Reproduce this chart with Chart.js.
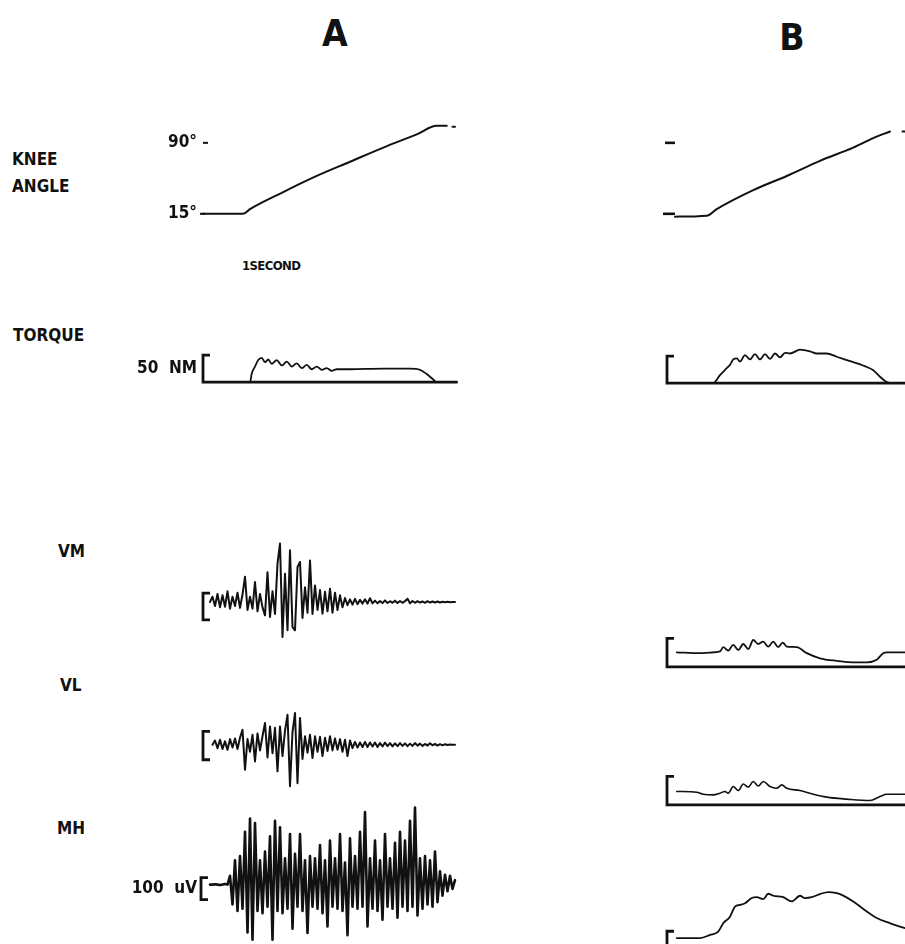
<!DOCTYPE html>
<html>
<head>
<meta charset="utf-8">
<title>Knee angle, torque and EMG</title>
<script src="https://cdn.jsdelivr.net/npm/chart.js@4.4.0/dist/chart.umd.min.js"></script>
<style>
  html, body { margin: 0; padding: 0; background: #fff; overflow: hidden; width: 905px; height: 944px; }
  body { position: relative; font-family: 'DejaVu Sans Condensed', 'DejaVu Sans', sans-serif; font-weight: bold; color: #111; }
  .lbl { position: absolute; font-size: 17px; line-height: 17px; white-space: nowrap; }
  .ttl { position: absolute; font-size: 37px; line-height: 37px; width: 40px; text-align: center; }
  .small { position: absolute; font-size: 13px; line-height: 13px; letter-spacing: -0.6px; white-space: nowrap; }
  canvas { position: absolute; }
</style>
</head>
<body>
<div class="ttl" style="left:315px;top:15px">A</div>
<div class="ttl" style="left:772px;top:19px">B</div>

<div class="lbl" style="left:12px;top:151px">KNEE</div>
<div class="lbl" style="left:12px;top:178px">ANGLE</div>
<div class="small" style="left:242px;top:259px">1SECOND</div>
<div class="lbl" style="left:13px;top:327px">TORQUE</div>
<div class="lbl" style="left:58px;top:543px">VM</div>
<div class="lbl" style="left:60px;top:677px">VL</div>
<div class="lbl" style="left:57px;top:820px">MH</div>

<canvas id="kneeA"></canvas>
<canvas id="kneeB"></canvas>
<canvas id="torqueA"></canvas>
<canvas id="torqueB"></canvas>
<canvas id="vmA"></canvas>
<canvas id="vlA"></canvas>
<canvas id="mhA"></canvas>
<canvas id="vmB"></canvas>
<canvas id="vlB"></canvas>
<canvas id="mhB"></canvas>

<script>
// ---- data (time in seconds from start of record) ----

// knee angle, degrees
const kneeTicks = [15, 90];
const kneeTimeA = [0.12, 1.72, 2.0, 3.33, 4.67, 6.0, 7.33, 8.67, 9.47, 9.87, 10.05, 10.1, 10.2];
const kneeAngleA = [15, 15, 20, 38, 55, 70, 85, 99, 108, 108, null, 107, 107];
const kneeTimeB = [0.6, 1.87, 2.27, 3.73, 5.07, 6.4, 7.73, 8.53, 9.2, 9.45, 9.7, 9.8];
const kneeAngleB = [12, 13, 20, 40, 55, 71, 85, 95, 102, null, 102, 102];

// torque, NM
const torqueCal = 50;
const torqueTimeA = [0.12, 2.0, 2.07, 2.2, 2.33, 2.47, 2.6, 2.73, 2.87, 3.07, 3.27, 3.47, 3.67, 3.87, 4.07,
  4.27, 4.47, 4.67, 4.87, 5.07, 5.27, 5.47, 6.0, 7.33, 8.4, 8.8, 9.07, 9.33, 9.47, 10.28];
const torqueA = [0, 0, 16, 29, 41, 45, 37, 42, 34, 41, 31, 38, 29, 35, 26,
  32, 24, 29, 23, 26, 21, 24, 24, 25, 25, 23, 15, 5, 0, 0];
const torqueTimeB = [0.28, 2.13, 2.4, 2.67, 2.8, 2.93, 3.07, 3.2, 3.4, 3.6, 3.8, 4.0, 4.2, 4.4, 4.6,
  4.8, 5.0, 5.2, 5.6, 6.0, 6.27, 6.67, 7.07, 7.73, 8.27, 8.53, 8.8, 9.07, 9.27, 10.5];
const torqueB = [0, 0, 15, 28, 34, 44, 46, 40, 52, 44, 54, 44, 54, 45, 55,
  48, 56, 55, 62, 59, 55, 55, 49, 39, 30, 24, 12, 2, 0, 0];

// raw EMG, uV, sampled every emgStep seconds
const emgStep = 0.1;
const vmStartA = 0.4;
const vmRawA = [0, 20, -15, 30, -20, 25, -18, 40, -25, 20, -15, 35, -22, 28, 95, -30, 20, -25, 75, -35,
  30, -20, -50, 112, -56, 40, -45, 144, 219, -131, 106, -106, 194, -94, -106, 131, 150, -60, 55, -40,
  156, -45, 62, -30, 45, -44, 38, -35, 50, -40, 35, -30, 25, -20, 15, -12, 10, -10, 12, -8,
  8, -6, 10, -6, 14, -5, 5, -5, 4, -4, 6, -4, 3, -3, 5, -4, 4, -3, 3, 12,
  -5, 4, -3, 3, -2, 2, -3, 3, -2, 2, -2, 2, -2, 1, -1, 1, -1, 0, 0];
const vlStartA = 0.5;
const vlRawA = [0, 15, -12, 18, -15, 12, -18, 20, -10, 22, -15, 25, 53, -88, 20, -25, 35, -59, 40, -20,
  30, 77, -45, 65, -30, 60, -94, 65, -40, 50, 106, -147, 45, 112, -136, 95, -50, 30, -28, 35,
  -47, 30, -25, 28, -40, 25, -22, 30, -20, 22, -18, 20, -25, 18, -40, 15, -12, 10, -10, 8,
  -8, 10, -8, 8, -6, 8, -8, 6, -6, 8, -5, 6, -6, 5, -5, 6, -4, 5, -5, 4,
  -4, 6, -3, 4, -4, 3, -3, 5, -2, 3, -3, 2, -2, 2, -1, 1, 0, 0];
const mhStartA = 0.4;
const mhRawA = [0, 0, 2, 0, -2, 0, 3, 0,
  40, -90, 110, -120, 130, -110, 240, -218, 300, -250,
  280, -120, 110, -130, 150, -100, 220, -250, 290, -120,
  260, -130, 120, -110, 230, -200, 140, -100, 230, -120,
  110, -220, 130, -100, 120, -110, 180, -130, 110, -190,
  200, -100, 120, -110, 230, -120, 100, -230, 210, -100,
  130, -110, 240, -100, 330, -190, 120, -110, 200, -120,
  110, -160, 230, -100, 120, -110, 190, -150, 240, -100,
  200, -120, 290, -100, 350, -140, 120, -110, 130, -90,
  110, -100, 150, -80, 60, -50, 45, -30, 40, -20, 20];

// calibration bars, uV (low end, high end)
const vmCalA = [-67, 33];
const vlCalA = [-53, 47];
const mhCalA = [-68, 32];
const envCalB = [0, 100];

// processed EMG envelopes, uV
const vmEnvTimeB = [0.67, 1.6, 2.0, 2.4, 2.53, 2.73, 2.93, 3.13, 3.33, 3.53, 3.73, 3.93, 4.13, 4.33,
  4.53, 4.73, 4.91, 5.07, 5.47, 5.87, 6.4, 7.07, 7.73, 8.27, 8.67, 8.93, 9.07, 10.5];
const vmEnvB = [51, 48, 50, 54, 69, 57, 77, 59, 80, 62, 94, 80, 88, 71,
  88, 69, 85, 71, 69, 48, 30, 21, 16, 16, 25, 48, 51, 51];
const vlEnvTimeB = [0.67, 1.47, 1.73, 2.13, 2.4, 2.6, 2.73, 2.93, 3.13, 3.33, 3.53, 3.73, 3.93,
  4.13, 4.4, 4.67, 4.87, 5.07, 5.6, 6.13, 6.67, 7.47, 8.4, 8.8, 9.07, 10.5];
const vlEnvB = [47, 44, 37, 35, 41, 47, 41, 64, 50, 73, 62, 82, 66,
  82, 64, 58, 70, 58, 50, 37, 27, 20, 15, 29, 37, 37];
const mhEnvTimeB = [0.67, 1.6, 2.0, 2.33, 2.53, 2.8, 3.0, 3.2, 3.4, 3.67, 3.87, 4.13, 4.33, 4.53, 4.93,
  5.27, 5.6, 5.8, 6.07, 6.4, 6.73, 7.07, 7.27, 7.73, 8.27, 8.67, 9.2, 9.8, 10.5];
const mhEnvB = [76, 76, 87, 99, 128, 151, 186, 192, 198, 216, 219, 212, 231, 224, 219,
  204, 224, 216, 219, 230, 237, 233, 227, 204, 169, 146, 128, 111, 100];

// ---- drawing ----
const INK = '#111';
const FONT = "'DejaVu Sans Condensed', 'DejaVu Sans', sans-serif";
const SPAN = 10.48;      // seconds shown across each column

// text to the left of the plot area, placed at a y value
const sideNotes = {
  id: 'sideNotes',
  afterDatasetsDraw(chart, args, opts) {
    const items = opts.items || [];
    if (!items.length) return;
    const { ctx, chartArea, scales } = chart;
    ctx.save();
    ctx.font = 'bold ' + (opts.size || 17) + 'px ' + FONT;
    ctx.fillStyle = INK;
    ctx.textAlign = 'right';
    ctx.textBaseline = 'middle';
    items.forEach(n => ctx.fillText(n.text, chartArea.left - 3, scales.y.getPixelForValue(n.value)));
    ctx.restore();
  }
};

function pairs(ts, vs) {
  return ts.map((t, i) => ({ x: t, y: vs[i] }));
}

function sampled(start, vs) {
  return vs.map((v, i) => ({ x: +(start + i * emgStep).toFixed(2), y: v }));
}

// "[" shaped calibration mark; the lower arm may run on as a baseline
function bracket(t0, lo, hi, tEnd) {
  return [{ x: t0 + 0.28, y: hi }, { x: t0, y: hi }, { x: t0, y: lo }, { x: tEnd || t0 + 0.28, y: lo }];
}

function trace(data, width, smooth) {
  return {
    data: data, borderColor: INK, borderWidth: width, pointRadius: 0, fill: false, clip: false,
    spanGaps: false, tension: smooth ? 0.4 : 0, cubicInterpolationMode: smooth ? 'monotone' : 'default',
    borderJoinStyle: 'round', borderCapStyle: 'round'
  };
}

function mark(data, width) {
  return {
    data: data, borderColor: INK, borderWidth: width, pointRadius: 0, fill: false, clip: false,
    tension: 0, borderJoinStyle: 'miter', borderCapStyle: 'butt'
  };
}

// box: left edge of the plot area, top of canvas, px per y unit
function panel(id, box, yMin, yMax, datasets, notes) {
  const cv = document.getElementById(id);
  const pad = 90;
  cv.width = 262 + pad;
  cv.height = Math.round((yMax - yMin) * box.k);
  cv.style.left = (box.left - pad) + 'px';
  cv.style.top = box.top + 'px';
  return new Chart(cv, {
    type: 'line',
    data: { datasets: datasets },
    options: {
      responsive: false,
      animation: false,
      events: [],
      layout: { padding: { left: pad, right: 0, top: 0, bottom: 0 } },
      scales: {
        x: { type: 'linear', min: 0, max: SPAN, display: false },
        y: { type: 'linear', min: yMin, max: yMax, display: false }
      },
      plugins: {
        legend: { display: false },
        tooltip: { enabled: false },
        sideNotes: { items: notes || [] }
      }
    },
    plugins: [sideNotes]
  });
}

// knee angle
panel('kneeA', { left: 200, top: 105, k: 123 / 130 }, 0, 130, [
  trace(pairs(kneeTimeA, kneeAngleA), 2, true),
  mark([{ x: 0.12, y: kneeTicks[1] }, { x: 0.32, y: kneeTicks[1] }], 2),
  mark([{ x: 0.0, y: kneeTicks[0] }, { x: 0.2, y: kneeTicks[0] }], 2)
], [{ value: kneeTicks[1], text: '90°' }, { value: kneeTicks[0], text: '15°' }]);

panel('kneeB', { left: 660, top: 105, k: 123 / 130 }, 0, 130, [
  trace(pairs(kneeTimeB, kneeAngleB), 2, true),
  mark([{ x: 0.2, y: kneeTicks[1] }, { x: 0.6, y: kneeTicks[1] }], 2.6),
  mark([{ x: 0.12, y: kneeTicks[0] }, { x: 0.6, y: kneeTicks[0] }], 2.6)
]);

// torque
panel('torqueA', { left: 200, top: 339, k: 0.54 }, -20, 80, [
  trace(pairs(torqueTimeA, torqueA), 1.8, true),
  mark(bracket(0.12, 0, torqueCal, 10.3), 2.8)
], [{ value: torqueCal / 2, text: '50  NM' }]);

panel('torqueB', { left: 660, top: 340, k: 0.54 }, -20, 80, [
  trace(pairs(torqueTimeB, torqueB), 1.8, true),
  mark(bracket(0.28, 0, torqueCal, SPAN), 2.8)
]);

// raw EMG, column A
panel('vmA', { left: 200, top: 538, k: 0.267 }, -150, 240, [
  trace(sampled(vmStartA, vmRawA), 2, false),
  mark(bracket(0.12, vmCalA[0], vmCalA[1]), 2.8)
]);

panel('vlA', { left: 200, top: 708, k: 0.283 }, -160, 130, [
  trace(sampled(vlStartA, vlRawA), 2, false),
  mark(bracket(0.12, vlCalA[0], vlCalA[1]), 2.8)
]);

panel('mhA', { left: 200, top: 801, k: 0.22 }, -270, 380, [
  trace(sampled(mhStartA, mhRawA), 2.6, false),
  mark(bracket(0.04, mhCalA[0], mhCalA[1]), 2.8)
], [{ value: (mhCalA[0] + mhCalA[1]) / 2, text: '100  uV' }]);

// EMG envelopes, column B
panel('vmB', { left: 660, top: 624, k: 0.286 }, -25, 150, [
  trace(pairs(vmEnvTimeB, vmEnvB), 1.8, true),
  mark(bracket(0.28, envCalB[0], envCalB[1], SPAN), 2.8)
]);

panel('vlB', { left: 660, top: 762, k: 0.286 }, -25, 150, [
  trace(pairs(vlEnvTimeB, vlEnvB), 1.6, true),
  mark(bracket(0.28, envCalB[0], envCalB[1], SPAN), 2.8)
]);

panel('mhB', { left: 660, top: 874, k: 0.286 }, -25, 300, [
  trace(pairs(mhEnvTimeB, mhEnvB), 1.8, true),
  mark(bracket(0.28, envCalB[0], envCalB[1], SPAN), 2.8)
]);
</script>
</body>
</html>
